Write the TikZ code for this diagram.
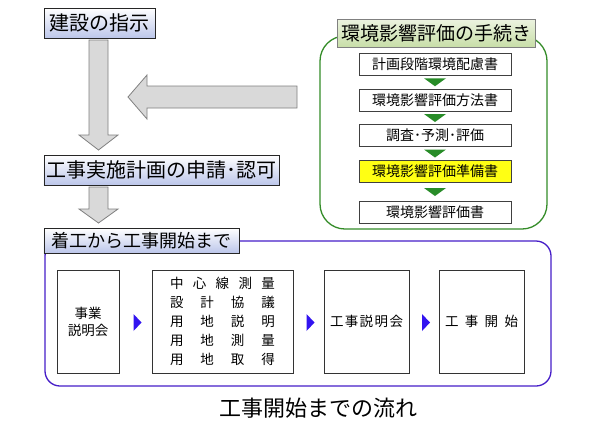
\documentclass[tikz,border=0pt]{standalone}
\usepackage{fontspec}
\newfontfamily\jp{Noto Sans CJK JP}
\usetikzlibrary{calc}
\definecolor{titlebot}{RGB}{188,198,234}
\definecolor{gltop}{RGB}{236,243,224}
\definecolor{glbot}{RGB}{200,222,168}
\definecolor{gframe}{RGB}{52,140,40}
\definecolor{bframe}{RGB}{70,30,200}
\definecolor{btri}{RGB}{50,20,240}
\definecolor{gtri}{RGB}{40,140,40}
\definecolor{arrfill}{RGB}{217,217,217}
\definecolor{arrline}{RGB}{128,128,128}
\definecolor{yel}{RGB}{255,255,20}
\tikzset{
  titlebox/.style={draw=black!85, line width=0.8bp, top color=white, bottom color=titlebot,
    minimum height=30bp, inner sep=0pt, font=\jp\fontsize{20bp}{24bp}\selectfont},
  glabel/.style={draw=black!50, line width=0.8bp, top color=gltop, bottom color=glbot,
    inner sep=0pt, font=\jp\fontsize{19bp}{23bp}\selectfont},
  gbox/.style={draw=black!75, line width=0.8bp, fill=white, minimum width=152bp, minimum height=22bp,
    inner sep=0pt, font=\jp\fontsize{14bp}{16bp}\selectfont},
  ibox/.style={draw=black!80, line width=0.8bp, fill=white, minimum height=103bp, inner sep=0pt,
    align=center, font=\jp\fontsize{13.5bp}{17bp}\selectfont},
  blockarrow/.style={draw=arrline, fill=arrfill, line width=0.8bp, line join=miter},
  greenframe/.style={draw=gframe, line width=1.3bp, rounded corners=25bp},
  blueframe/.style={draw=bframe, line width=1.3bp, rounded corners=15bp},
  gtriangle/.style={fill=gtri},
  btriangle/.style={fill=btri},
}
\begin{document}
\begin{tikzpicture}[x=1bp,y=-1bp]
\useasboundingbox (0,0) rectangle (590,430);
\fill[white] (0,0) rectangle (590,430);

% frames
\draw[greenframe] (320,36) rectangle (547,229);
\draw[blueframe] (45,241) rectangle (551,386);

% left column
\node[titlebox, minimum width=111bp] (b1) at (99.5,23) {建設の指示};
\node[titlebox, minimum width=235bp] (b2) at (161.5,170) {工事実施計画の申請･認可};
\node[titlebox, minimum width=195bp, minimum height=25bp, font=\jp\fontsize{18bp}{22bp}\selectfont] (b3) at (141.5,240.5) {着工から工事開始まで};

% block arrows
\draw[blockarrow] (89,40) -- (108,40) -- (108,135) -- (118,135) -- (98.5,150) -- (79,135) -- (89,135) -- cycle;
\draw[blockarrow] (89,187) -- (108,187) -- (108,209) -- (118,209) -- (98.5,223) -- (79,209) -- (89,209) -- cycle;
\draw[blockarrow] (297,86) -- (147,86) -- (147,75) -- (128,97) -- (147,119) -- (147,108) -- (297,108) -- cycle;

% green procedure
\node[glabel, minimum width=198bp, minimum height=28bp] (gl) at (436,33) {環境影響評価の手続き};
\node[gbox] (g1) at (435,64) {計画段階環境配慮書};
\node[gbox] (g2) at (435,100.5) {環境影響評価方法書};
\node[gbox] (g3) at (435,135.5) {調査･予測･評価};
\node[gbox, fill=yel] (g4) at (435,171.5) {環境影響評価準備書};
\node[gbox] (g5) at (435,212.5) {環境影響評価書};
\foreach \a/\b in {g1/g2,g2/g3,g3/g4,g4/g5}{
  \coordinate (m) at ($(\a.south)!0.5!(\b.north)$);
  \fill[gtriangle] ([xshift=-11bp,yshift=4bp]m) -- ([xshift=11bp,yshift=4bp]m) -- ([yshift=-4bp]m) -- cycle;
}

% bottom flow
\node[ibox, minimum width=62bp] (c1) at (88,321.5) {事業\\説明会};
\node[ibox, minimum width=141bp] (c2) at (222.5,321.5) {\parbox{105bp}{\baselineskip=19bp\lineskiplimit=-10bp
中\hfill 心\hfill 線\hfill 測\hfill 量\\
設\hfill 計\hfill 協\hfill 議\\
用\hfill 地\hfill 説\hfill 明\\
用\hfill 地\hfill 測\hfill 量\\
用\hfill 地\hfill 取\hfill 得}};
\node[ibox, minimum width=85bp] (c3) at (366.5,321.5) {\makebox[73bp]{工\hfill 事\hfill 説\hfill 明\hfill 会}};
\node[ibox, minimum width=85bp] (c4) at (481.5,321.5) {\makebox[73bp]{工\hfill 事\hfill 開\hfill 始}};
\foreach \a/\b in {c1/c2,c2/c3,c3/c4}{
  \coordinate (m) at ($(\a.east)!0.5!(\b.west)$);
  \fill[btriangle] ([xshift=-2bp,yshift=7.5bp]m) -- ([xshift=-2bp,yshift=-9.5bp]m) -- ([xshift=6bp,yshift=-1bp]m) -- cycle;
}

\node[inner sep=0pt, font=\jp\fontsize{22bp}{26bp}\selectfont] (cap) at (318,408) {工事開始までの流れ};
\end{tikzpicture}
\end{document}
